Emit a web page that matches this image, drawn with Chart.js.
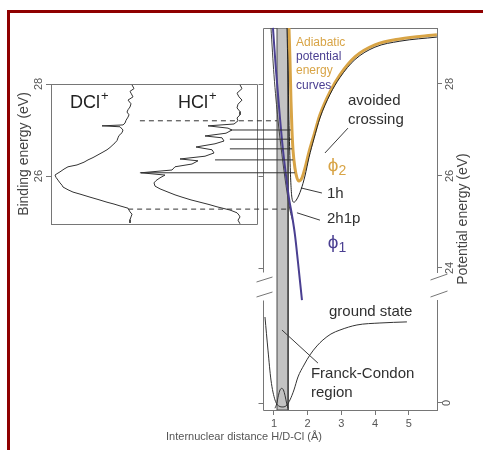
<!DOCTYPE html>
<html><head><meta charset="utf-8">
<script src="https://cdn.jsdelivr.net/npm/chart.js@4.4.1/dist/chart.umd.min.js"></script>
<style>
html,body{margin:0;padding:0;background:#fff;overflow:hidden;width:483px;height:450px;}
#frame{position:absolute;left:7px;top:10px;width:1000px;height:1000px;border:3px solid #8f0000;box-sizing:border-box;}
#c{position:absolute;left:0;top:0;}
</style></head><body>
<div id="frame"></div>
<canvas id="c" width="483" height="450"></canvas>
<script>
// ================= DATA =================
// Photoelectron spectra: binding energy (eV) and trace position (arbitrary units)
const DCL_E = [27.98,27.90,27.84,27.80,27.72,27.65,27.57,27.50,27.44,27.39,27.33,27.28,27.21,27.15,27.11,27.09,27.07,27.00,26.94,26.88,26.83,26.77,26.72,26.66,26.62,26.57,26.52,26.46,26.40,26.35,26.30,26.24,26.20,26.15,26.09,26.05,26.02,25.97,25.91,25.85,25.80,25.76,25.70,25.65,25.60,25.54,25.49,25.43,25.39,25.35,25.30,25.26,25.22,25.17,25.11,25.05,24.98];
const DCL_I = [81,83,79,80,82,77,80,79,77,76,78,77,75,74,72,51,69,72,71,68,67,66,64,61,59,56,52,47,42,37,33,26,17,13,9,6,4,5,7,9,11,12,17,22,30,39,47,56,63,69,77,78,79,81,80,79,79];
const HCL_E = [27.98,27.90,27.80,27.72,27.65,27.56,27.48,27.40,27.33,27.26,27.20,27.13,27.09,27.04,27.00,26.93,26.87,26.83,26.76,26.70,26.63,26.57,26.50,26.43,26.37,26.33,26.26,26.20,26.13,26.07,26.02,25.96,25.90,25.85,25.78,25.72,25.65,25.59,25.54,25.48,25.43,25.38,25.33,25.26,25.20,25.15,25.11,25.04,24.96];
const HCL_I = [189,191,186,188,191,187,186,189,189,186,187,183,157,177,181,175,154,171,173,164,145,161,163,154,129,147,141,124,121,90,114,109,105,103,104,109,117,124,131,140,149,158,166,179,186,188,189,187,189];

// HCl+ vibrational levels (eV) and the r-range (Å) of their connector lines
const LEVEL_E    = [27.00, 26.80, 26.59, 26.35, 26.07];
const LEVEL_FROM = [-0.31, -0.31, -0.31, -0.75, -2.98];
const LEVEL_TO   = [1.50, 1.52, 1.54, 1.57, 1.62];
// Band limits (dashed)
const EDGE_E    = [27.20, 25.28];
const EDGE_FROM = [-2.98, -3.33];
const EDGE_TO   = [1.09, 1.45];

// Potential energy curves: r (Å), E (eV)
const PHI2_R = [1.445,1.475,1.504,1.534,1.564,1.623,1.682,1.742,1.831,1.920,2.039,2.187,2.365,2.662,2.958,3.404,3.997,4.739,5.837];
const PHI2_E = [29.22,28.52,27.65,27.00,26.57,26.17,25.96,25.89,25.96,26.17,26.52,26.89,27.33,27.83,28.20,28.59,28.85,28.98,29.07];
const H1_R   = [1.386,1.415,1.445,1.475,1.504,1.534,1.593,1.682,1.801,1.920,2.039,2.187,2.365,2.662,2.958,3.404,3.997,4.739,5.837];
const H1_E   = [29.22,28.30,27.22,26.35,25.80,25.52,25.43,25.50,25.70,26.00,26.40,26.81,27.26,27.77,28.14,28.53,28.80,28.93,29.02];
const PHI1_R = [0.970,1.059,1.178,1.267,1.356,1.445,1.534,1.623,1.712,1.831];
const PHI1_E = [29.22,28.30,27.26,26.57,26.02,25.52,25.15,24.72,24.13,23.30];
const H2P_R  = [0.911,1.000,1.119,1.237,1.356,1.475,1.564];
const H2P_E  = [29.22,28.20,27.22,26.46,25.80,25.26,25.00];
// Ground state (eV, lower panel) and vibrational wavefunction
const GS_R = [0.733,0.822,0.911,1.030,1.148,1.267,1.386,1.475,1.593,1.712,1.890,2.068,2.276,2.454,2.691,2.958,3.463,4.145,4.947];
const GS_E = [4.76,2.93,1.27,0.17,-0.17,-0.22,-0.11,0.17,0.72,1.44,2.10,2.66,3.16,3.49,3.82,4.04,4.32,4.43,4.49];
const WF_R = [1.03,1.08,1.13,1.18,1.23,1.28,1.33,1.38,1.42];
const WF_E = [-0.29,-0.05,0.40,0.72,0.81,0.72,0.40,-0.05,-0.29];
const FC_REGION = [1.09, 1.42];

// Tick labels
const X_TICKS = [1, 2, 3, 4, 5];
const BE_TICKS = [26, 28];
const PE_TICKS_UPPER = [24, 26, 28];
const PE_TICKS_LOWER = [0];

// ================= STYLE / LAYOUT =================
const FONT = '"Liberation Sans", Arial, Helvetica, sans-serif';
Chart.defaults.font.family = FONT;
Chart.defaults.color = '#555';
const AX = '#767676', INK = '#2e2e2e', ORANGE = '#d8a446', PURPLE = '#4a3f91', TXT = '#303030';

const pts = (xs, ys) => xs.map((x, i) => ({x, y: ys[i]}));
const seg = (x0, x1, y) => [{x: x0, y}, {x: x1, y}];
const base = {pointRadius: 0, borderWidth: 1, borderColor: INK, fill: false, xAxisID: 'x', yAxisID: 'yU', order: 1};

const datasets = [];
datasets.push({...base, label: 'Franck-Condon region', yAxisID: 'yF',
  data: [{x: FC_REGION[0], y: 0}, {x: FC_REGION[0], y: 1}, {x: FC_REGION[1], y: 1}, {x: FC_REGION[1], y: 0}, {x: FC_REGION[0], y: 0}],
  fill: 'shape', backgroundColor: '#c3c3c3', borderColor: '#4a4a4a', order: 20});
datasets.push({...base, label: 'DCl+', xAxisID: 'xS', data: pts(DCL_I, DCL_E), borderColor: '#333'});
datasets.push({...base, label: 'HCl+', xAxisID: 'xS', data: pts(HCL_I, HCL_E), borderColor: '#333'});
LEVEL_E.forEach((e, i) => datasets.push({...base, label: 'level ' + i, data: seg(LEVEL_FROM[i], LEVEL_TO[i], e), borderColor: '#333'}));
EDGE_E.forEach((e, i) => datasets.push({...base, label: 'edge ' + i, data: seg(EDGE_FROM[i], EDGE_TO[i], e), borderDash: [5, 4], borderColor: '#333'}));
datasets.push({...base, label: '2h1p', data: pts(H2P_R, H2P_E), borderColor: '#444', cubicInterpolationMode: 'monotone', order: 3});
datasets.push({...base, label: 'phi1', data: pts(PHI1_R, PHI1_E), borderColor: PURPLE, borderWidth: 2, cubicInterpolationMode: 'monotone', clip: false, order: 2});
datasets.push({...base, label: 'phi2', data: pts(PHI2_R, PHI2_E), borderColor: ORANGE, borderWidth: 3, cubicInterpolationMode: 'monotone', order: 2});
datasets.push({...base, label: '1h', data: pts(H1_R, H1_E), borderColor: '#222', cubicInterpolationMode: 'monotone', order: 0});
datasets.push({...base, label: 'ground state', yAxisID: 'yL', data: pts(GS_R, GS_E), borderColor: '#333', cubicInterpolationMode: 'monotone'});
datasets.push({...base, label: 'wavefunction', yAxisID: 'yL', data: pts(WF_R, WF_E), borderColor: '#333', cubicInterpolationMode: 'monotone'});

// leader lines of the annotations (r, E)
const LEADERS = [
  {y: 'yU', p: [[3.196, 27.04], [2.513, 26.50]]},
  {y: 'yU', p: [[1.801, 25.74], [2.424, 25.63]]},
  {y: 'yU', p: [[1.682, 25.20], [2.365, 25.04]]},
  {y: 'yL', p: [[1.237, 4.04], [2.306, 2.21]]}
];
LEADERS.forEach((l, i) => datasets.push({...base, label: 'leader ' + i, yAxisID: l.y, data: l.p.map(q => ({x: q[0], y: q[1]})), borderColor: '#3a3a3a'}));

const setTicks = arr => s => { s.ticks = arr.map(v => ({value: v})); };
const rotTicks = {minRotation: 90, maxRotation: 90, crossAlign: 'center', font: {size: 11}, color: '#555'};

const frames = {
  id: 'frames',
  beforeDatasetsDraw(chart) {
    const {ctx, chartArea: ca} = chart; const s = chart.scales;
    const a = v => Math.round(v) + 0.5;
    const L = (x0, y0, x1, y1) => { ctx.beginPath(); ctx.moveTo(x0, y0); ctx.lineTo(x1, y1); ctx.stroke(); };
    ctx.save(); ctx.strokeStyle = AX; ctx.lineWidth = 1;
    // spectra box
    const sl = a(s.yB.right), sr = a(s.xS.getPixelForValue(206));
    const st = a(s.yB.top), sb = a(s.yB.bottom);
    L(sl, st, sr, st); L(sr, st, sr, sb); L(sr, sb, sl, sb);
    // potential panel frame
    const pl = a(s.x.getPixelForValue(0.67)), pr = a(ca.right);
    L(pl, a(s.yU.top), pr, a(s.yU.top));
    L(pl, a(s.yU.top), pl, a(s.yU.bottom));
    L(pl, a(s.yL.top), pl, a(s.yL.bottom));
    L(pl, a(s.yL.bottom), pr, a(s.yL.bottom));
    PE_TICKS_UPPER.forEach(v => { const y = a(s.yU.getPixelForValue(v)); L(pl - 5, y, pl, y); });
    PE_TICKS_LOWER.forEach(v => { const y = a(s.yL.getPixelForValue(v)); L(pl - 5, y, pl, y); });
    // break marks
    const ub = s.yU.bottom, lt = s.yL.top;
    L(pl - 7, ub + 10, pl + 9, ub + 5); L(pl - 7, lt - 3, pl + 9, lt - 8);
    L(pr - 7, ub + 8, pr + 10, ub + 2); L(pr - 7, lt - 3, pr + 10, lt - 9);
    ctx.restore();
  },
  afterDatasetsDraw(chart) {
    const {ctx, chartArea: ca} = chart; const s = chart.scales;
    const T = (str, x, y, size, color, align) => {
      ctx.font = size + 'px ' + FONT; ctx.fillStyle = color; ctx.textAlign = align || 'left'; ctx.textBaseline = 'middle';
      ctx.fillText(str, x, y); return ctx.measureText(str).width;
    };
    ctx.save();
    // spectrum labels
    [['DCl', 19], ['HCl', 127]].forEach(([t, v]) => {
      const x = s.xS.getPixelForValue(v), y = s.yU.getPixelForValue(27.59);
      const w = T(t, x, y, 18, '#222'); T('+', x + w + 1, y - 6, 13, '#222');
    });
    // adiabatic caption
    const capX = s.x.getPixelForValue(1.653);
    [['Adiabatic', 28.89, ORANGE], ['potential', 28.59, PURPLE], ['energy', 28.28, ORANGE], ['curves', 27.96, PURPLE]]
      .forEach(([t, e, c]) => T(t, capX, s.yU.getPixelForValue(e), 12, c));
    // annotations
    const U = (t, r, e) => T(t, s.x.getPixelForValue(r), s.yU.getPixelForValue(e), 15, TXT);
    const Lw = (t, r, e) => T(t, s.x.getPixelForValue(r), s.yL.getPixelForValue(e), 15, TXT);
    U('avoided', 3.196, 27.63); U('crossing', 3.196, 27.22);
    U('1h', 2.573, 25.61); U('2h1p', 2.573, 25.07);
    Lw('ground state', 2.632, 5.04); Lw('Franck-Condon', 2.098, 1.61); Lw('region', 2.098, 0.55);
    [['2', 26.22, ORANGE], ['1', 24.54, PURPLE]].forEach(([n, e, c]) => {
      const x = s.x.getPixelForValue(2.60), y = s.yU.getPixelForValue(e);
      const w = T('\u03D5', x, y, 19, c); T(n, x + w, y + 5, 14, c);
    });
    // right axis title
    ctx.translate(ca.right + 26, (s.yU.top + s.yL.bottom) / 2);
    ctx.rotate(-Math.PI / 2);
    T('Potential energy (eV)', 0, 0, 14, '#444', 'center');
    ctx.restore();
  }
};

new Chart(document.getElementById('c'), {
  type: 'line',
  data: {datasets},
  plugins: [frames],
  options: {
    responsive: false, animation: false, events: [],
    layout: {padding: {left: 8, top: 28, right: 0, bottom: 0}},
    plugins: {legend: {display: false}, tooltip: {enabled: false}, title: {display: false}},
    scales: {
      x: {type: 'linear', position: 'bottom', min: -5.62, max: 5.84,
        afterBuildTicks: setTicks(X_TICKS), afterFit: s => { s.height = 40; },
        border: {display: false}, grid: {drawOnChartArea: false, tickLength: 5, color: AX},
        ticks: {font: {size: 11}, color: '#555', padding: 2},
        title: {display: true, text: 'Internuclear distance H/D-Cl (\u00C5)', font: {size: 11}, color: '#555', padding: {top: 0, bottom: 6}}},
      xS: {type: 'linear', display: false, position: 'bottom', min: 0, max: 386},
      yU: {type: 'linear', position: 'right', stack: 'R', stackWeight: 244, min: 23.913, max: 29.217,
        afterBuildTicks: setTicks(PE_TICKS_UPPER), afterFit: s => { s.width = 46; },
        border: {display: true, color: AX}, grid: {drawOnChartArea: false, tickLength: 5, color: AX},
        ticks: {...rotTicks, padding: 2}},
      yG: {type: 'linear', position: 'right', stack: 'R', stackWeight: 28, display: false, min: 0, max: 1, afterFit: s => { s.width = 46; }},
      yL: {type: 'linear', position: 'right', stack: 'R', stackWeight: 110, min: -0.388, max: 5.703,
        afterBuildTicks: setTicks(PE_TICKS_LOWER), afterFit: s => { s.width = 46; },
        border: {display: true, color: AX}, grid: {drawOnChartArea: false, tickLength: 5, color: AX},
        ticks: {...rotTicks, padding: 2}},
      yLb: {type: 'linear', position: 'left', stack: 'L', stackWeight: 186, display: false, min: 0, max: 1, afterFit: s => { s.width = 43; }},
      yB: {type: 'linear', position: 'left', stack: 'L', stackWeight: 140, min: 24.957, max: 28,
        afterBuildTicks: setTicks(BE_TICKS), afterFit: s => { s.width = 43; },
        border: {display: true, color: AX}, grid: {drawOnChartArea: false, tickLength: 5, color: AX},
        ticks: {...rotTicks, padding: 1},
        title: {display: true, text: 'Binding energy (eV)', font: {size: 14}, color: '#444', padding: {top: 8, bottom: 0}}},
      yLt: {type: 'linear', position: 'left', stack: 'L', stackWeight: 56, display: false, min: 0, max: 1, afterFit: s => { s.width = 43; }},
      yF: {type: 'linear', position: 'left', display: false, min: 0, max: 1}
    }
  }
});
</script></body></html>
